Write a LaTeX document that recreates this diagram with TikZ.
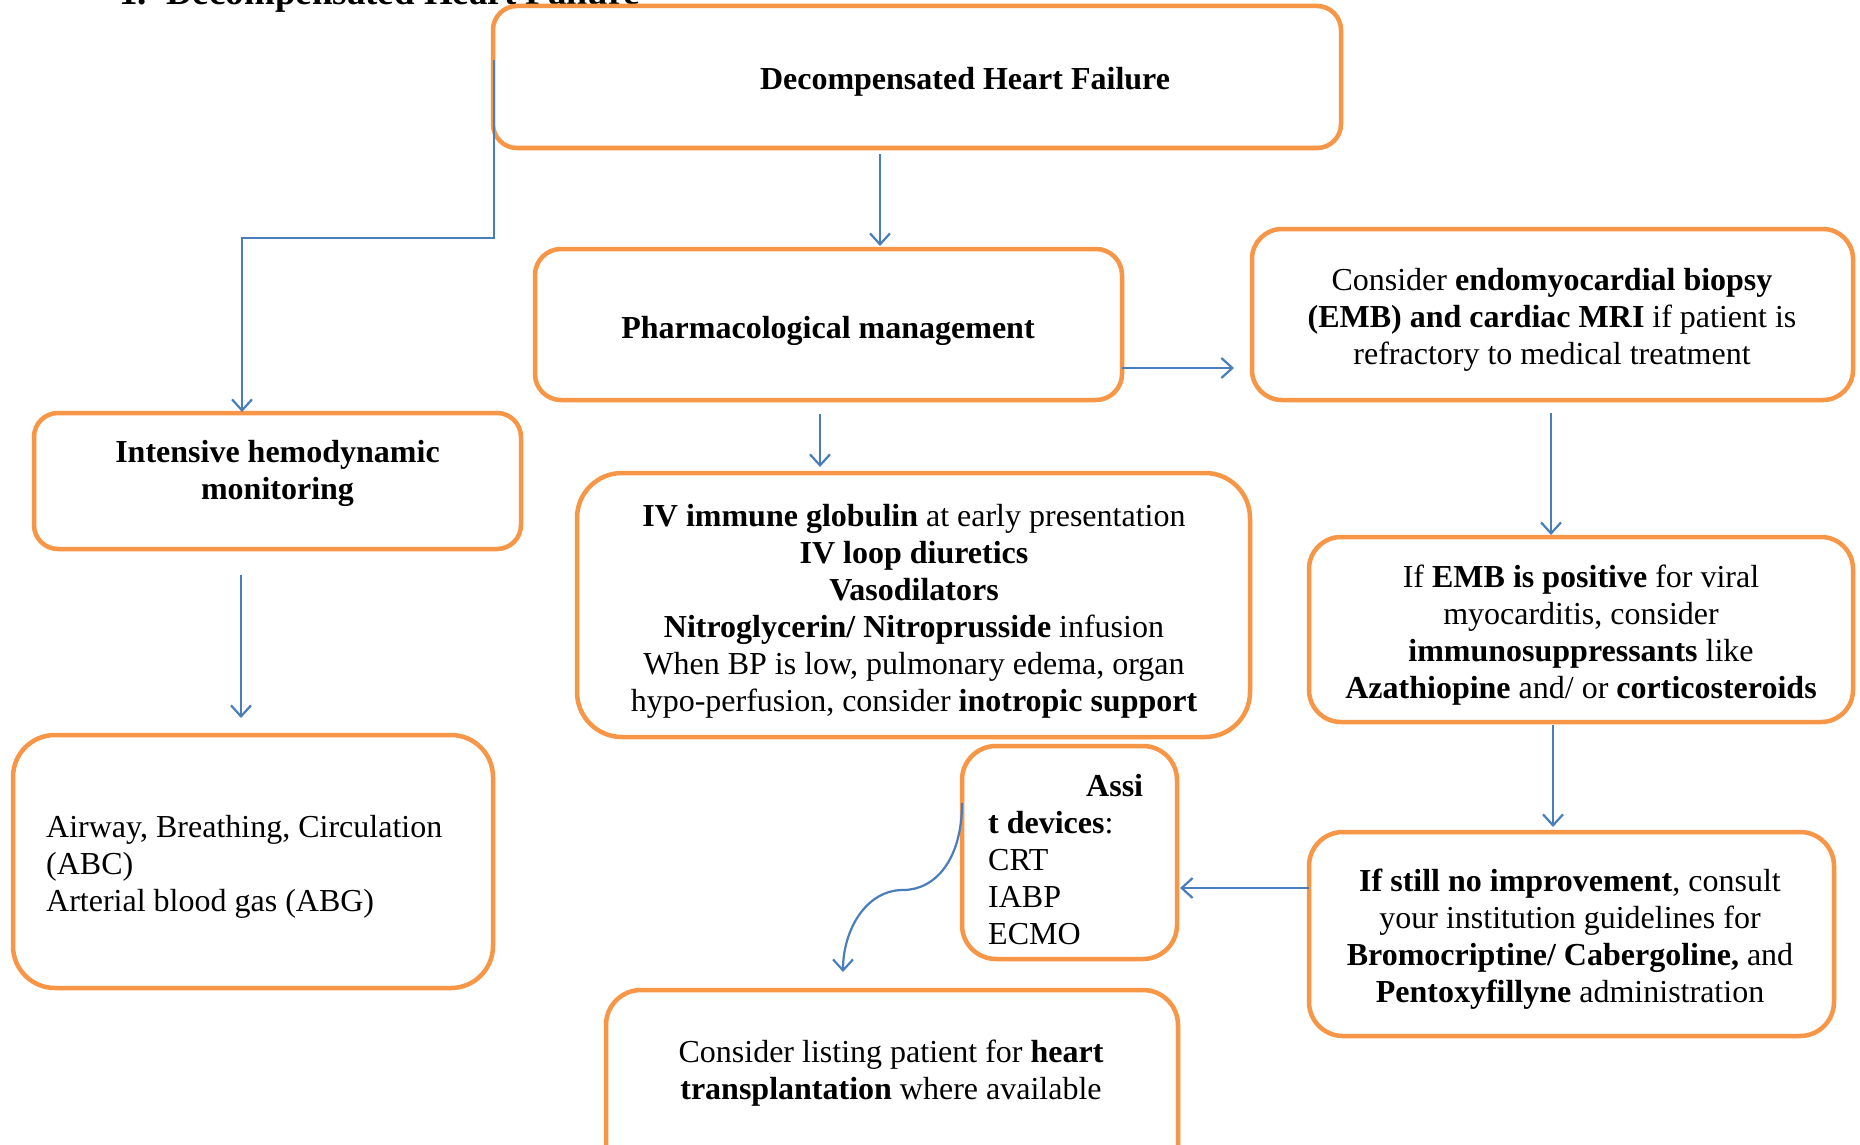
\documentclass[tikz,border=0pt]{standalone}
\usepackage{fontspec}
\setmainfont{Liberation Serif}
\usetikzlibrary{arrows.meta}
\definecolor{boxorange}{HTML}{F79646}
\definecolor{arrblue}{HTML}{4A7EBB}
\begin{document}
\begin{tikzpicture}[x=1pt,y=-1pt,
  box/.style={draw=boxorange, line width=4.5pt, rounded corners=#1, inner sep=0pt, outer sep=0pt},
  txt/.style={font=\fontsize{32}{37}\selectfont, align=center, inner sep=0pt},
  arr/.style={draw=arrblue, line width=2.2pt, -{Straight Barb[length=11pt,width=20pt,line width=2.2pt]}}]
\clip (0,0) rectangle (1860,1145);
\fill[white] (0,0) rectangle (1860,1145);
% partially visible heading
\node[font=\fontsize{37}{42}\selectfont\bfseries, anchor=base west, inner sep=0pt] (head1) at (119,5) {1.};
\node[font=\fontsize{37}{42}\selectfont\bfseries, anchor=base west, inner sep=0pt] (head2) at (166,5) {Decompensated Heart Failure};
% boxes
\node[box=24pt, minimum width=848pt, minimum height=142pt] (top) at (917,77) {};
\node[box=26pt, minimum width=587pt, minimum height=151pt] (pharm) at (828.5,324.5) {};
\node[box=30pt, minimum width=601pt, minimum height=171pt] (emb) at (1552.5,314.5) {};
\node[box=24pt, minimum width=487pt, minimum height=136pt] (inten) at (277.5,481) {};
\node[box=45pt, minimum width=673pt, minimum height=264pt] (iv) at (913.5,605) {};
\node[box=42pt, minimum width=480pt, minimum height=253pt] (abc) at (253,861.5) {};
\node[box=34pt, minimum width=215pt, minimum height=213pt] (assist) at (1069.5,852.5) {};
\node[box=32pt, minimum width=544pt, minimum height=185pt] (embpos) at (1581,629.5) {};
\node[box=34pt, minimum width=525pt, minimum height=204pt] (still) at (1571.5,934) {};
\node[box=35pt, minimum width=572pt, minimum height=200pt] (heart) at (892,1090) {};
% texts
\node[txt, font=\fontsize{32}{37}\selectfont\bfseries] (ttop) at (965,82) {Decompensated Heart Failure};
\node[txt] (tpharm) at (828,331) {\textbf{Pharmacological management}};
\node[txt] (temb) at (1552,320) {Consider \textbf{endomyocardial biopsy}\\\textbf{(EMB) and cardiac MRI} if patient is\\refractory to medical treatment};
\node[txt] (tinten) at (277.5,473) {\textbf{Intensive hemodynamic}\\\textbf{monitoring}};
\node[txt] (tiv) at (914,611) {\textbf{IV immune globulin} at early presentation\\\textbf{IV loop diuretics}\\\textbf{Vasodilators}\\\textbf{Nitroglycerin/ Nitroprusside} infusion\\When BP is low, pulmonary edema, organ\\hypo-perfusion, consider \textbf{inotropic support}};
\node[txt, align=left, anchor=west] (tabc) at (46,867) {Airway, Breathing, Circulation\\(ABC)\\Arterial blood gas (ABG)};
\node[txt, align=left, anchor=west] (tassist) at (988,860) {\hspace*{98pt}\textbf{Assi}\\\textbf{t devices}:\\CRT\\IABP\\ECMO};
\node[txt] (tembpos) at (1581,635) {If \textbf{EMB is positive} for viral\\myocarditis, consider\\\textbf{immunosuppressants} like\\\textbf{Azathiopine} and/ or \textbf{corticosteroids}};
\node[txt] (tstill) at (1570,939) {\textbf{If still no improvement}, consult\\your institution guidelines for\\\textbf{Bromocriptine/ Cabergoline,} and\\\textbf{Pentoxyfillyne} administration};
\node[txt] (theart) at (891,1073) {Consider listing patient for \textbf{heart}\\\textbf{transplantation} where available};
% connector end points
\coordinate (a0) at (494,60);
\coordinate (a1) at (242,412);
\coordinate (b0) at (880,154);
\coordinate (b1) at (880,246);
\coordinate (c0) at (1122,368);
\coordinate (c1) at (1234,368);
\coordinate (d0) at (820,414);
\coordinate (d1) at (820,467);
\coordinate (e0) at (1551,413);
\coordinate (e1) at (1551,535);
\coordinate (f0) at (241,575);
\coordinate (f1) at (241,718);
\coordinate (g0) at (1553,725);
\coordinate (g1) at (1553,827);
\coordinate (h0) at (1309,888);
\coordinate (h1) at (1180,888);
\coordinate (i0) at (962,803);
\coordinate (im) at (903,890);
\coordinate (i1) at (843,972);
% connectors
\draw[arr] (a0) |- (368,238) -| (a1);
\draw[arr] (b0) -- (b1);
\draw[arr] (c0) -- (c1);
\draw[arr] (d0) -- (d1);
\draw[arr] (e0) -- (e1);
\draw[arr] (f0) -- (f1);
\draw[arr] (g0) -- (g1);
\draw[arr] (h0) -- (h1);
\draw[arr] (i0) .. controls (962,860) and (935,890) .. (im) .. controls (866,890) and (843,930) .. (i1);
\end{tikzpicture}
\end{document}
